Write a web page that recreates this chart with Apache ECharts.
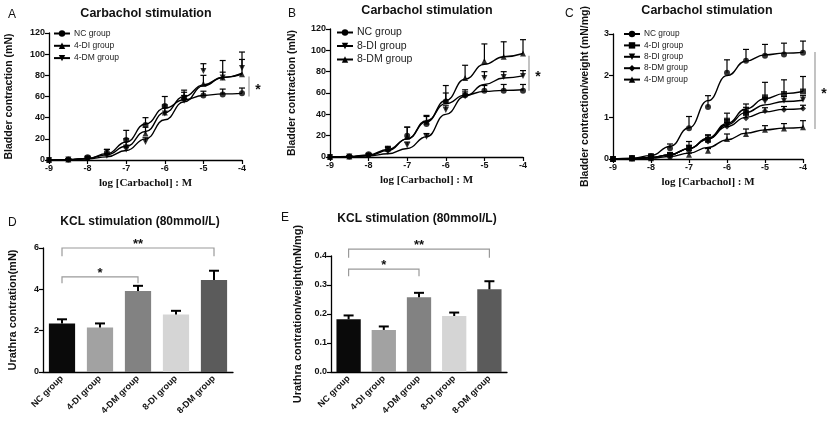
<!DOCTYPE html>
<html><head><meta charset="utf-8">
<script src="https://cdn.jsdelivr.net/npm/echarts@6/dist/echarts.min.js"></script>
<style>html,body{margin:0;padding:0;background:#fff}#c{width:832px;height:424px}</style>
</head><body><div id="c"></div>
<script>
// ---------- DATA ----------
const doses = [-9, -8.5, -8, -7.5, -7, -6.5, -6, -5.5, -5, -4.5, -4];

// Panel A (mN)
const aNC      = [0, 0.5, 2.5, 7, 19, 33, 51, 58, 61, 62, 63];
const aNCErr   = [0, 0.5, 1, 3, 9, 7, 9, 6, 4, 5, 5];
const aNCFit   = [0, 0.3, 1.5, 6, 17, 34, 49, 57, 61, 62.5, 63];
const a4DI     = [0, 0.5, 2, 7, 14, 25, 45, 60, 72, 78, 81];
const a4DIErr  = [0, 0.5, 1, 3, 6, 6, 7, 6, 8, 16, 14];
const a4DIFit  = [0, 0.3, 1.5, 5, 13, 27, 45, 60, 71, 78, 81];
const a4DM     = [0, 0.5, 1.5, 4, 10, 17, 44, 56, 84, 78, 87];
const a4DMErr  = [0, 0.5, 1, 2, 4, 4, 6, 5, 7, 5, 15];
const a4DMFit  = [0, 0.2, 1, 3, 9, 20, 38, 55, 70, 78, 82];

// Panel B (mN)
const bNC      = [0, 0.5, 2.5, 7, 20, 31, 52, 58, 62, 62, 62];
const bNCErr   = [0, 0.5, 1, 2, 8, 7, 8, 5, 5, 6, 6];
const bNCFit   = [0, 0.3, 1.5, 6, 17, 34, 50, 58, 61.5, 62.5, 63];
const b8DI     = [0, 0.5, 1, 5, 11, 19, 44, 57, 74, 75, 76];
const b8DIErr  = [0, 0.5, 1, 2, 3, 3, 4, 4, 6, 5, 5];
const b8DIFit  = [0, 0.2, 1, 3, 8, 19, 40, 57, 68, 74, 76];
const b8DM     = [0, 0.5, 2, 8, 19, 33, 53, 74, 90, 94, 97];
const b8DMErr  = [0, 0.5, 1, 2, 9, 6, 14, 12, 16, 14, 13];
const b8DMFit  = [0, 0.4, 2, 7, 17, 33, 53, 73, 87, 94, 97];

// Panel C (mN/mg)
const cNC      = [0, 0.02, 0.07, 0.26, 0.74, 1.25, 2.07, 2.36, 2.48, 2.51, 2.55];
const cNCErr   = [0, 0.02, 0.05, 0.1, 0.28, 0.27, 0.31, 0.27, 0.27, 0.27, 0.28];
const cNCFit   = [0, 0.02, 0.08, 0.3, 0.75, 1.4, 2.0, 2.35, 2.5, 2.54, 2.56];
const c4DI     = [0, 0.02, 0.04, 0.1, 0.26, 0.46, 0.92, 1.1, 1.48, 1.56, 1.62];
const c4DIErr  = [0, 0.01, 0.03, 0.05, 0.16, 0.12, 0.18, 0.22, 0.36, 0.34, 0.36];
const c4DIFit  = [0, 0.01, 0.04, 0.1, 0.25, 0.5, 0.85, 1.2, 1.45, 1.57, 1.62];
const c8DI     = [0, 0.02, 0.04, 0.08, 0.25, 0.47, 0.82, 1.12, 1.38, 1.4, 1.42];
const c8DIErr  = [0, 0.01, 0.02, 0.04, 0.08, 0.1, 0.12, 0.12, 0.1, 0.1, 0.1];
const c8DIFit  = [0, 0.01, 0.04, 0.1, 0.25, 0.48, 0.82, 1.12, 1.3, 1.38, 1.41];
const c8DM     = [0, 0.02, 0.03, 0.08, 0.2, 0.42, 0.78, 0.98, 1.15, 1.18, 1.21];
const c8DMErr  = [0, 0.01, 0.02, 0.03, 0.06, 0.08, 0.1, 0.1, 0.08, 0.08, 0.08];
const c8DMFit  = [0, 0.01, 0.04, 0.1, 0.25, 0.48, 0.78, 1.0, 1.13, 1.19, 1.21];
const c4DM     = [0, 0.01, 0.02, 0.05, 0.1, 0.2, 0.48, 0.6, 0.7, 0.73, 0.76];
const c4DMErr  = [0, 0.01, 0.01, 0.02, 0.04, 0.05, 0.12, 0.12, 0.1, 0.12, 0.16];
const c4DMFit  = [0, 0.01, 0.02, 0.06, 0.14, 0.28, 0.46, 0.62, 0.7, 0.74, 0.76];

// Panels D, E (bars)
const groups   = ['NC group', '4-DI group', '4-DM group', '8-DI group', '8-DM group'];
const dVals    = [2.35, 2.15, 3.92, 2.78, 4.45];
const dErrs    = [0.2, 0.2, 0.25, 0.18, 0.45];
const eVals    = [0.182, 0.145, 0.258, 0.193, 0.285];
const eErrs    = [0.013, 0.012, 0.015, 0.012, 0.028];

// ---------- STYLE / LAYOUT ----------
const SANS = 'Liberation Sans, Arial, sans-serif';
const SERIF = 'Liberation Serif, Times New Roman, serif';
const barColors = ['#0a0a0a', '#a2a2a2', '#828282', '#d5d5d5', '#5b5b5b'];
const downTri = 'path://M0,0L10,0L5,9Z';
const upTri = 'path://M5,0L10,9L0,9Z';

const grids = [
  {left: 49, top: 33, width: 193, height: 127},
  {left: 330, top: 29, width: 193, height: 128},
  {left: 613, top: 34, width: 190, height: 125},
  {left: 43, top: 248, width: 190, height: 124},
  {left: 331, top: 256, width: 176, height: 116}
];

const axisLine = {lineStyle: {color: '#000', width: 1.3}};
const axisTick = {length: 4, lineStyle: {color: '#000', width: 1.2}};
const tickLabel = {fontSize: 9, fontWeight: 'bold', color: '#111', fontFamily: SANS};

function doseAxis(g) {
  return {type: 'value', gridIndex: g, min: -9, max: -4, interval: 1,
    name: 'log [Carbachol] : M', nameLocation: 'middle', nameGap: 18,
    nameTextStyle: {fontFamily: SERIF, fontWeight: 'bold', fontSize: 11, color: '#111'},
    axisLine, axisTick, axisLabel: Object.assign({margin: 4}, tickLabel), splitLine: {show: false}};
}
function valAxis(g, max, interval, name, gap, fs, fmt) {
  return {type: 'value', gridIndex: g, min: 0, max, interval,
    name, nameLocation: 'middle', nameGap: gap,
    nameTextStyle: {fontFamily: SANS, fontWeight: 'bold', fontSize: fs, color: '#111'},
    axisLine: Object.assign({show: true}, axisLine), axisTick: Object.assign({show: true}, axisTick),
    axisLabel: Object.assign({margin: 4, formatter: fmt}, tickLabel), splitLine: {show: false}};
}
function catAxis(g) {
  return {type: 'category', gridIndex: g, data: groups,
    axisLine, axisTick: Object.assign({alignWithLabel: true}, axisTick),
    axisLabel: Object.assign({rotate: 45, margin: 5, interval: 0}, tickLabel)};
}

const series = [];
function errRender(capHalf, lw) {
  return function (params, api) {
    const x = api.value(0), y = api.value(1), e = api.value(2);
    if (!e) return null;
    const p0 = api.coord([x, y]), p1 = api.coord([x, y + e]);
    const st = {stroke: '#000', lineWidth: lw};
    return {type: 'group', children: [
      {type: 'line', shape: {x1: p0[0], y1: p0[1], x2: p1[0], y2: p1[1]}, style: st},
      {type: 'line', shape: {x1: p1[0] - capHalf, y1: p1[1], x2: p1[0] + capHalf, y2: p1[1]}, style: st}
    ]};
  };
}
function addGroup(panel, g, name, means, errs, fit, symbol) {
  series.push({type: 'line', name: panel + '|' + name, xAxisIndex: g, yAxisIndex: g,
    data: doses.map((d, i) => [d, fit[i]]), smooth: true, smoothMonotone: 'x',
    symbol, symbolSize: 0, showSymbol: true, color: '#000',
    lineStyle: {color: '#000', width: 1.4}, itemStyle: {color: '#000'}, z: 2, silent: true});
  series.push({type: 'scatter', name: panel + '#pts#' + name, xAxisIndex: g, yAxisIndex: g,
    data: doses.map((d, i) => [d, means[i]]), symbol, symbolSize: 6,
    itemStyle: {color: '#000'}, z: 4, silent: true});
  series.push({type: 'custom', name: panel + '#err#' + name, xAxisIndex: g, yAxisIndex: g,
    data: doses.map((d, i) => [d, means[i], errs[i]]), renderItem: errRender(3, 1.2), z: 3, silent: true});
}
addGroup('A', 0, 'NC group', aNC, aNCErr, aNCFit, 'circle');
addGroup('A', 0, '4-DI group', a4DI, a4DIErr, a4DIFit, upTri);
addGroup('A', 0, '4-DM group', a4DM, a4DMErr, a4DMFit, downTri);
addGroup('B', 1, 'NC group', bNC, bNCErr, bNCFit, 'circle');
addGroup('B', 1, '8-DI group', b8DI, b8DIErr, b8DIFit, downTri);
addGroup('B', 1, '8-DM group', b8DM, b8DMErr, b8DMFit, upTri);
addGroup('C', 2, 'NC group', cNC, cNCErr, cNCFit, 'circle');
addGroup('C', 2, '4-DI group', c4DI, c4DIErr, c4DIFit, 'rect');
addGroup('C', 2, '8-DI group', c8DI, c8DIErr, c8DIFit, downTri);
addGroup('C', 2, '8-DM group', c8DM, c8DMErr, c8DMFit, 'diamond');
addGroup('C', 2, '4-DM group', c4DM, c4DMErr, c4DMFit, upTri);

function addBars(g, vals, errs) {
  series.push({type: 'bar', xAxisIndex: g, yAxisIndex: g, barWidth: '69%', silent: true,
    data: vals.map((v, i) => ({value: v, itemStyle: {color: barColors[i]}})), z: 2});
  series.push({type: 'custom', xAxisIndex: g, yAxisIndex: g, z: 3, silent: true,
    data: vals.map((v, i) => [i, v, errs[i]]), renderItem: errRender(5, 2)});
}
addBars(3, dVals, dErrs);
addBars(4, eVals, eErrs);

// significance brackets (bar panels): [fromIdx, toIdx, level, drop, label]
function addBrackets(g, items) {
  series.push({type: 'custom', xAxisIndex: g, yAxisIndex: g, z: 5, silent: true,
    data: items.map(b => [b[0], b[1], b[2], b[3]]),
    renderItem: function (params, api) {
      const b = items[params.dataIndex];
      const p1 = api.coord([b[0], b[2]]), p2 = api.coord([b[1], b[2]]);
      const d = api.coord([b[0], b[2] - b[3]])[1];
      return {type: 'group', children: [
        {type: 'polyline', shape: {points: [[p1[0], d], [p1[0], p1[1]], [p2[0], p2[1]], [p2[0], d]]},
          style: {stroke: '#9a9a9a', lineWidth: 1.2, fill: null}},
        {type: 'text', x: (p1[0] + p2[0]) / 2, y: p1[1] + 3,
          style: {text: b[4], align: 'center', verticalAlign: 'bottom', font: 'bold 13px ' + SANS, fill: '#111'}}
      ]};
    }});
}
addBrackets(3, [[0, 2, 4.6, 0.3, '*'], [0, 4, 6.0, 0.4, '**']]);
addBrackets(4, [[0, 2, 0.355, 0.025, '*'], [0, 4, 0.424, 0.03, '**']]);

// significance bars for dose-response panels: [low, high, offsetPx]
function addSigBar(g, low, high, off) {
  series.push({type: 'custom', xAxisIndex: g, yAxisIndex: g, z: 5, silent: true, clip: false,
    data: [[-4, low, high]],
    renderItem: function (params, api) {
      const pL = api.coord([-4, low]), pH = api.coord([-4, high]);
      const x = pL[0] + off;
      return {type: 'group', children: [
        {type: 'line', shape: {x1: x, y1: pL[1], x2: x, y2: pH[1]}, style: {stroke: '#9a9a9a', lineWidth: 1.2}},
        {type: 'text', x: x + 9, y: (pL[1] + pH[1]) / 2 + 4,
          style: {text: '*', align: 'center', verticalAlign: 'middle', font: 'bold 14px ' + SANS, fill: '#111'}}
      ]};
    }});
}
addSigBar(0, 60, 79, 7);
addSigBar(1, 62, 95, 6);
addSigBar(2, 0.72, 2.57, 12);

function legendFor(panel, names, left, top, fs, gap) {
  return {left, top, orient: 'vertical', padding: 0, itemWidth: 16, itemHeight: 8, itemGap: gap,
    data: names.map(n => panel + '|' + n), formatter: n => n.split('|')[1],
    selectedMode: false,
    textStyle: {fontSize: fs, lineHeight: 8, fontFamily: SANS, color: '#222', padding: [0, 0, 0, -1]}};
}

function txt(text, x, y, font, align) {
  return {type: 'text', x, y, silent: true,
    style: {text, align: align || 'center', verticalAlign: 'top', font, fill: '#111'}};
}

const option = {
  animation: false,
  backgroundColor: '#fff',
  grid: grids,
  xAxis: [doseAxis(0), doseAxis(1), doseAxis(2), catAxis(3), catAxis(4)],
  yAxis: [
    valAxis(0, 120, 20, 'Bladder contraction (mN)', 34, 10.5),
    valAxis(1, 120, 20, 'Bladder contraction (mN)', 32, 10.5),
    valAxis(2, 3, 1, 'Bladder contraction/weight (mN/mg)', 22, 10.5),
    valAxis(3, 6, 2, 'Urathra contration(mN)', 25, 11),
    valAxis(4, 0.4, 0.1, 'Urathra contration/weight(mN/mg)', 28, 11, v => v.toFixed(1))
  ],
  legend: [
    legendFor('A', ['NC group', '4-DI group', '4-DM group'], 53, 29, 8.5, 3.3),
    legendFor('B', ['NC group', '8-DI group', '8-DM group'], 336, 27, 10.5, 2.5),
    legendFor('C', ['NC group', '4-DI group', '8-DI group', '8-DM group', '4-DM group'], 623, 30, 8.3, 3.4)
  ],
  graphic: [
    txt('A', 8, 9, '12px ' + SANS, 'left'),
    txt('B', 288, 8, '12px ' + SANS, 'left'),
    txt('C', 565, 8, '12px ' + SANS, 'left'),
    txt('D', 8, 217, '12px ' + SANS, 'left'),
    txt('E', 281, 212, '12px ' + SANS, 'left'),
    txt('Carbachol stimulation', 146, 7, 'bold 12.5px ' + SANS),
    txt('Carbachol stimulation', 427, 4, 'bold 12.5px ' + SANS),
    txt('Carbachol stimulation', 707, 4, 'bold 12.5px ' + SANS),
    txt('KCL stimulation (80mmol/L)', 140, 216, 'bold 12px ' + SANS),
    txt('KCL stimulation (80mmol/L)', 417, 213, 'bold 12px ' + SANS)
  ],
  series
};
const chart = echarts.init(document.getElementById('c'), null, {renderer: 'canvas'});
chart.setOption(option);
</script>
</body></html>
